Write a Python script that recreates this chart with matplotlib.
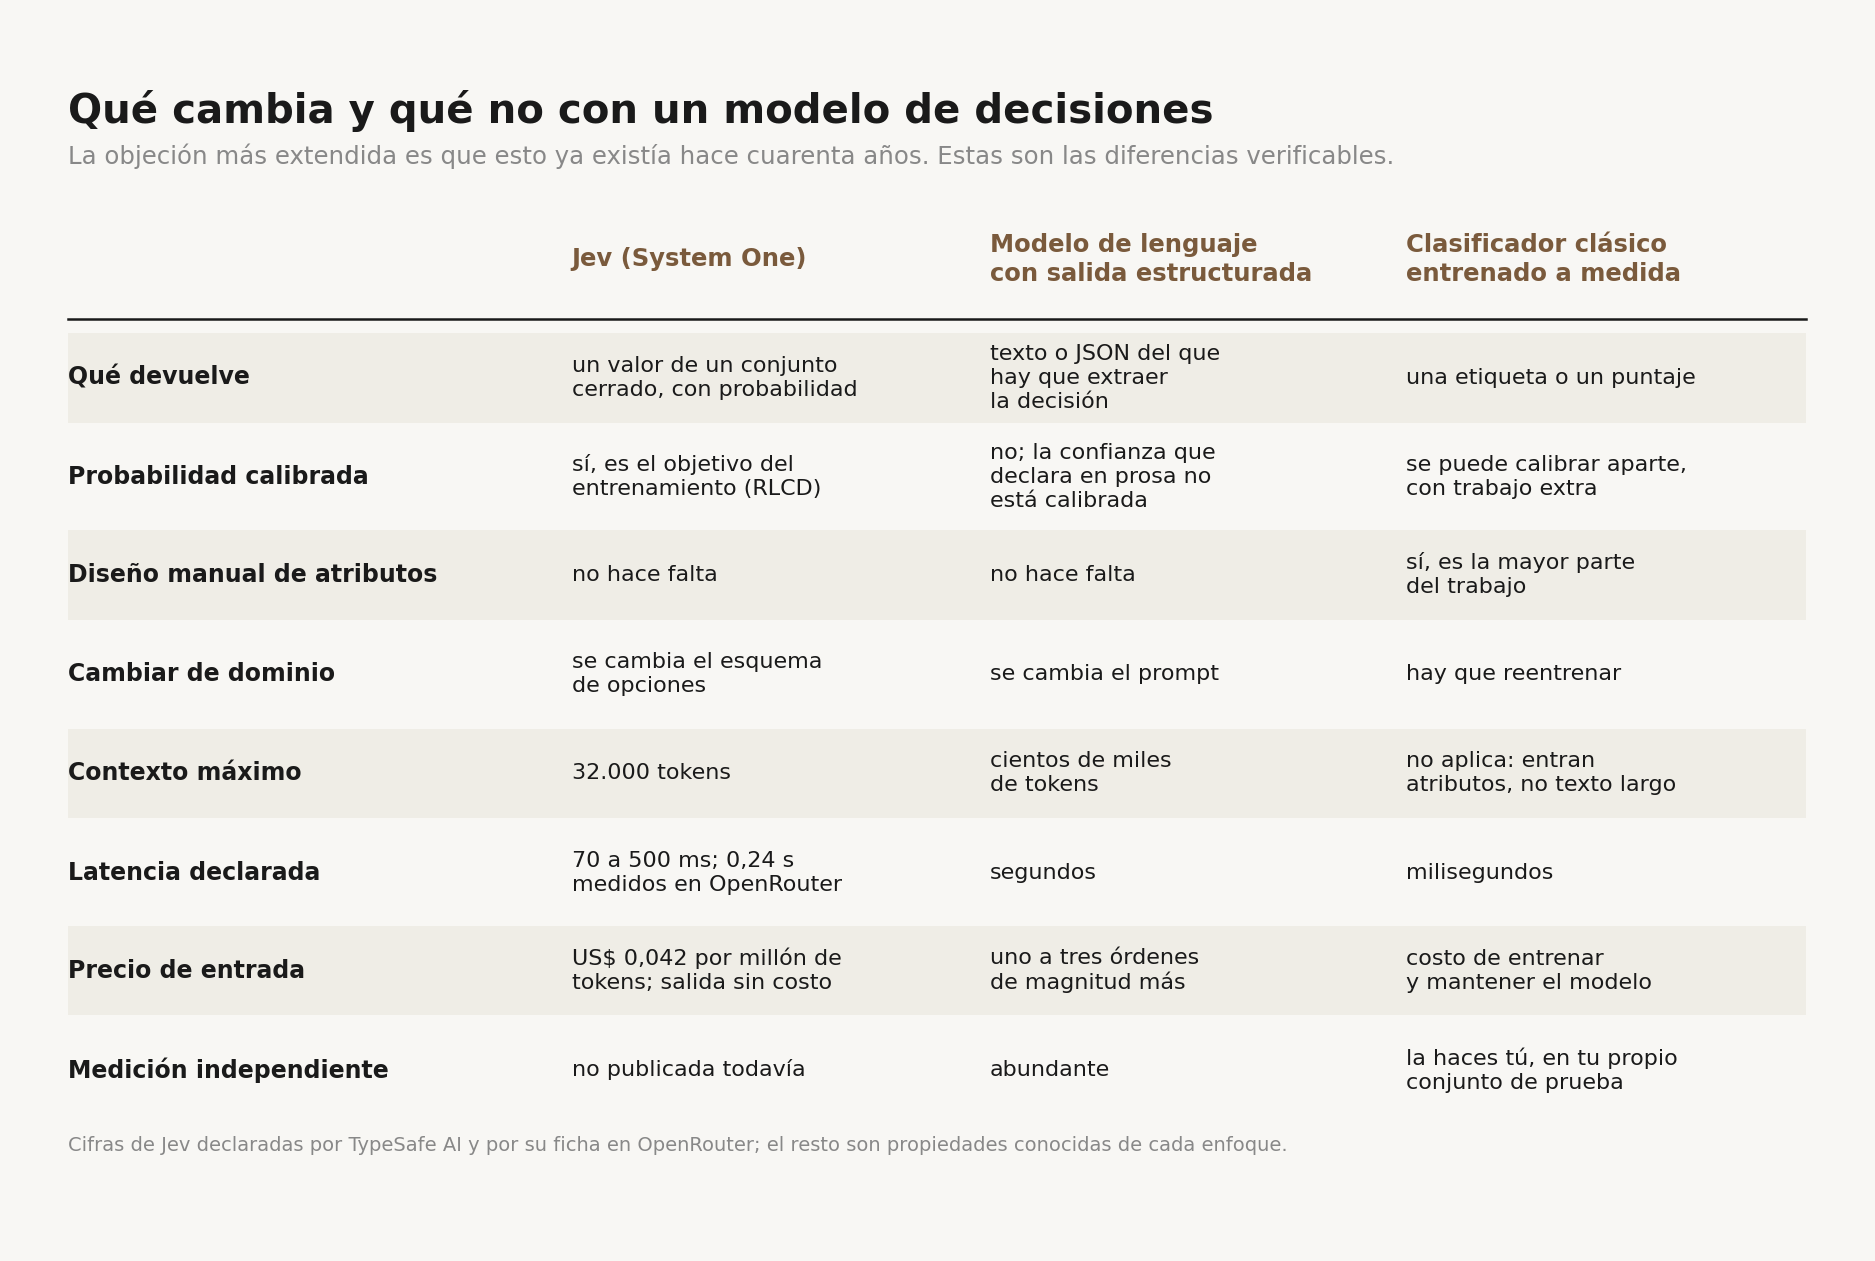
import matplotlib
matplotlib.use("Agg")
import matplotlib.pyplot as plt
from matplotlib.patches import Rectangle

title = "Qué cambia y qué no con un modelo de decisiones"
subtitle = "La objeción más extendida es que esto ya existía hace cuarenta años. Estas son las diferencias verificables."
footnote = "Cifras de Jev declaradas por TypeSafe AI y por su ficha en OpenRouter; el resto son propiedades conocidas de cada enfoque."
headers = ["Jev (System One)", "Modelo de lenguaje\ncon salida estructurada", "Clasificador clásico\nentrenado a medida"]
row_labels = ["Qué devuelve", "Probabilidad calibrada", "Diseño manual de atributos", "Cambiar de dominio",
              "Contexto máximo", "Latencia declarada", "Precio de entrada", "Medición independiente"]
col_jev = ["un valor de un conjunto\ncerrado, con probabilidad", "sí, es el objetivo del\nentrenamiento (RLCD)",
           "no hace falta", "se cambia el esquema\nde opciones", "32.000 tokens",
           "70 a 500 ms; 0,24 s\nmedidos en OpenRouter", "US$ 0,042 por millón de\ntokens; salida sin costo",
           "no publicada todavía"]
col_llm = ["texto o JSON del que\nhay que extraer\nla decisión", "no; la confianza que\ndeclara en prosa no\nestá calibrada",
           "no hace falta", "se cambia el prompt", "cientos de miles\nde tokens", "segundos",
           "uno a tres órdenes\nde magnitud más", "abundante"]
col_clf = ["una etiqueta o un puntaje", "se puede calibrar aparte,\ncon trabajo extra", "sí, es la mayor parte\ndel trabajo",
           "hay que reentrenar", "no aplica: entran\natributos, no texto largo", "milisegundos",
           "costo de entrenar\ny mantener el modelo", "la haces tú, en tu propio\nconjunto de prueba"]

BG = "#f8f7f4"; SHADE = "#efede6"; BROWN = "#7a5a3c"; INK = "#1a1a1a"; GREY = "#888888"
fig = plt.figure(figsize=(18.75, 12.61), dpi=100, facecolor=BG)

def Y(px):
    return 1 - px / 1055.0
def X(px):
    return px / 1568.0

fig.text(X(57), Y(93), title, fontsize=29, fontweight="bold", color=INK, va="center")
fig.text(X(57), Y(131), subtitle, fontsize=17.6, color=GREY, va="center")

xs = [X(57), X(478), X(828), X(1176)]
for x, h in zip(xs[1:], headers):
    fig.text(x, Y(217), h, fontsize=17.5, fontweight="bold", color=BROWN, va="center", linespacing=1.3)
fig.add_artist(plt.Line2D([X(57), X(1510)], [Y(267), Y(267)], color=INK, lw=1.8))

centers = [316, 399, 481, 564, 647, 730, 812, 895]
for i, c in enumerate(centers):
    if i % 2 == 0:
        fig.add_artist(Rectangle((X(57), Y(c + 37.5)), X(1510) - X(57), 75 / 1055.0,
                                 facecolor=SHADE, edgecolor="none", zorder=0))
    fig.text(xs[0], Y(c), row_labels[i], fontsize=17, fontweight="bold", color=INK, va="center")
    for x, col in zip(xs[1:], [col_jev, col_llm, col_clf]):
        fig.text(x, Y(c), col[i], fontsize=16, color=INK, va="center", linespacing=1.25)

fig.text(X(57), Y(958), footnote, fontsize=14, color=GREY, va="center")
fig.savefig("out.png", dpi=100, facecolor=BG)
